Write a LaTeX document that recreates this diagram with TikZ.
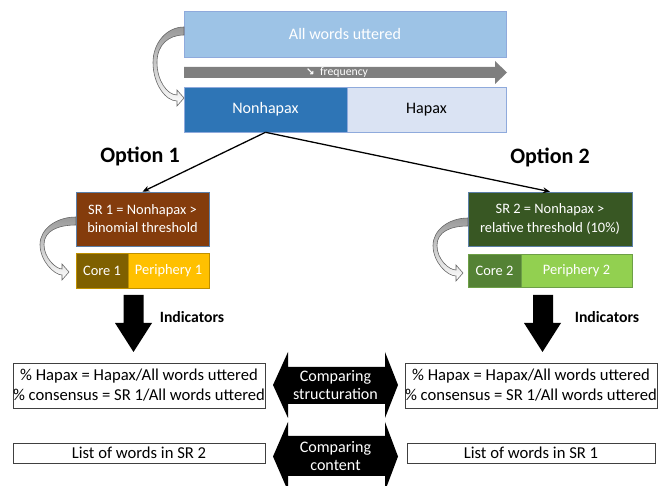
\documentclass[tikz,border=0pt]{standalone}
\usepackage{fontspec}
\setmainfont{Carlito}
\newfontfamily\symf{DejaVu Sans}
\usetikzlibrary{arrows.meta}
\definecolor{allblue}{HTML}{9DC3E6}
\definecolor{topborder}{HTML}{8FAADC}
\definecolor{nonhapaxc}{HTML}{2E75B6}
\definecolor{hapaxc}{HTML}{DAE3F3}
\definecolor{freqgrey}{HTML}{7F7F7F}
\definecolor{srone}{HTML}{843C0C}
\definecolor{srborder}{HTML}{5B7FA8}
\definecolor{coreone}{HTML}{7F6000}
\definecolor{perione}{HTML}{FFC000}
\definecolor{oneborder}{HTML}{BF9000}
\definecolor{srtwo}{HTML}{385723}
\definecolor{coretwo}{HTML}{548235}
\definecolor{peritwo}{HTML}{92D050}
\definecolor{twoborder}{HTML}{6D9F47}
\newcommand\fmain{\fontsize{13.7pt}{16pt}\selectfont}
\newcommand\fopt{\fontsize{18.8pt}{22pt}\selectfont\bfseries}
\newcommand\fsr{\fontsize{12.3pt}{15.4pt}\selectfont}
\newcommand\fbot{\fontsize{14.2pt}{17pt}\selectfont}
\newcommand\fcmp{\fontsize{13.7pt}{15.4pt}\selectfont}
\newcommand\find{\fontsize{13.4pt}{16pt}\selectfont\bfseries}
\newcommand\ffreq{\fontsize{10pt}{11pt}\selectfont}
\newcommand\curvarr[5]{%
\begin{scope}[shift={(#1,#2)}]
\pgfmathsetmacro\cW{#3}\pgfmathsetmacro\cH{#4}\pgfmathsetmacro\cT{#5}\pgfmathsetmacro\cB{#5-7}
\path[curv] (0,0) .. controls ({-0.55*\cW},0) and ({-\cW},{0.22*\cH}) .. ({-\cW},{0.5*\cH})
 .. controls ({-\cW},{0.8*\cH}) and ({-0.6*\cW},{\cH+3}) .. (\cB,{\cH+3})
 -- (\cB,{\cH+8}) -- (\cT,\cH) -- (\cB,{\cH-8}) -- (\cB,{\cH-3})
 .. controls ({-0.55*\cW},{\cH-3}) and ({-\cW+4},{0.75*\cH}) .. ({-\cW+4},{0.5*\cH})
 .. controls ({-\cW+4},{0.25*\cH}) and ({-0.5*\cW},8) .. (0,8) -- cycle;
\end{scope}}
\begin{document}
\begin{tikzpicture}[x=0.03cm,y=-0.03cm,
  rbox/.style={rectangle, inner sep=0pt, align=center, line width=0.5pt},
  wtext/.style={text=white},
  curv/.style={draw=black!60, line width=0.5pt, top color=black!40, bottom color=white},
  conn/.style={-{Stealth[length=6pt,width=5pt]}, line width=1.1pt},
  blk/.style={fill=black}]
\useasboundingbox (0,0) rectangle (665,486);
\clip (0,0) rectangle (665,486);
% top
\node[rbox, wtext, fill=allblue, draw=topborder, minimum width=9.66cm, minimum height=1.38cm, font=\fmain] (all) at (345,34) {All words uttered};
\path[fill=freqgrey] (184,67) -- (495,67) -- (495,61) -- (507,72.5) -- (495,84) -- (495,78) -- (184,78) -- cycle;
\node[wtext, inner sep=0pt, font=\ffreq] (freq) at (337,72.5) {{\symf\bfseries\fontsize{9pt}{10pt}\selectfont ↘}\ \ frequency};
\node[rbox, wtext, fill=nonhapaxc, draw=topborder, minimum width=4.89cm, minimum height=1.35cm, font=\fmain] (nh) at (265.5,109.5) {Nonhapax};
\node[rbox, fill=hapaxc, draw=topborder, minimum width=4.77cm, minimum height=1.35cm, font=\fmain] (hx) at (426.5,109.5) {Hapax};
\curvarr{184}{27}{31}{71}{0}
% options
\node[font=\fopt] (opt1) at (140,156) {Option 1};
\node[font=\fopt] (opt2) at (550,157) {Option 2};
\node[rbox, wtext, fill=srone, draw=srborder, minimum width=3.99cm, minimum height=1.62cm, font=\fsr] (sr1) at (142.5,219) {SR 1 = Nonhapax >\\binomial threshold};
\node[rbox, wtext, fill=srtwo, draw=srborder, minimum width=4.92cm, minimum height=1.62cm, font=\fsr] (sr2) at (550,219) {SR 2 = Nonhapax >\\relative threshold (10\%)};
\draw[conn] (nh.south) -- (sr1.north);
\draw[conn] (nh.south) -- (sr2.north);
\node[rbox, wtext, fill=coreone, draw=oneborder, minimum width=1.56cm, minimum height=1.05cm, font=\fsr] (core1) at (102,270.5) {Core 1};
\node[rbox, wtext, fill=perione, draw=oneborder, minimum width=2.43cm, minimum height=1.05cm, font=\fsr] (peri1) at (168.5,270.5) {Periphery 1};
\node[rbox, wtext, fill=coretwo, draw=twoborder, minimum width=1.59cm, minimum height=0.99cm, font=\fsr] (core2) at (494.5,270.5) {Core 2};
\node[rbox, wtext, fill=peritwo, draw=twoborder, minimum width=3.33cm, minimum height=0.99cm, font=\fsr] (peri2) at (576.5,270.5) {Periphery 2};
\curvarr{76}{217}{36}{55}{-7}
\curvarr{468}{218}{35}{55}{-5}
% down arrows
\path[blk] (123.5,295) -- (143.5,295) -- (143.5,323) -- (152,323) -- (133.5,352) -- (115,323) -- (123.5,323) -- cycle;
\path[blk] (533,295) -- (553,295) -- (553,323) -- (561,323) -- (542.5,352) -- (524,323) -- (533,323) -- cycle;
\node[font=\find] (ind1) at (192,317) {Indicators};
\node[font=\find] (ind2) at (607,317) {Indicators};
% bottom boxes
\node[rbox, draw=black!75, minimum width=7.56cm, minimum height=1.35cm, font=\fbot] (hl) at (139,385.5) {\% Hapax = Hapax/All words uttered\\\% consensus = SR 1/All words uttered};
\node[rbox, draw=black!75, minimum width=7.56cm, minimum height=0.6cm, font=\fbot] (ll) at (139,453) {List of words in SR 2};
\node[rbox, draw=black!75, minimum width=7.44cm, minimum height=1.35cm, font=\fbot] (hr) at (531,385.5) {\% Hapax = Hapax/All words uttered\\\% consensus = SR 1/All words uttered};
\node[rbox, draw=black!75, minimum width=7.44cm, minimum height=0.6cm, font=\fbot] (lr) at (531,453) {List of words in SR 1};
% double arrows
\path[blk] (273,385) -- (288,352) -- (288,367) -- (385,367) -- (385,352) -- (398,385) -- (385,418) -- (385,404) -- (288,404) -- (288,418) -- cycle;
\node[wtext, align=center, inner sep=0pt, font=\fcmp] (cmp1) at (335.5,385.5) {Comparing\\structuration};
\path[blk] (273,456.5) -- (288,422) -- (288,436) -- (385,436) -- (385,422) -- (398,456.5) -- (385,491) -- (385,476) -- (288,476) -- (288,491) -- cycle;
\node[wtext, align=center, inner sep=0pt, font=\fcmp] (cmp2) at (335.5,456.5) {Comparing\\content};
\end{tikzpicture}
\end{document}
